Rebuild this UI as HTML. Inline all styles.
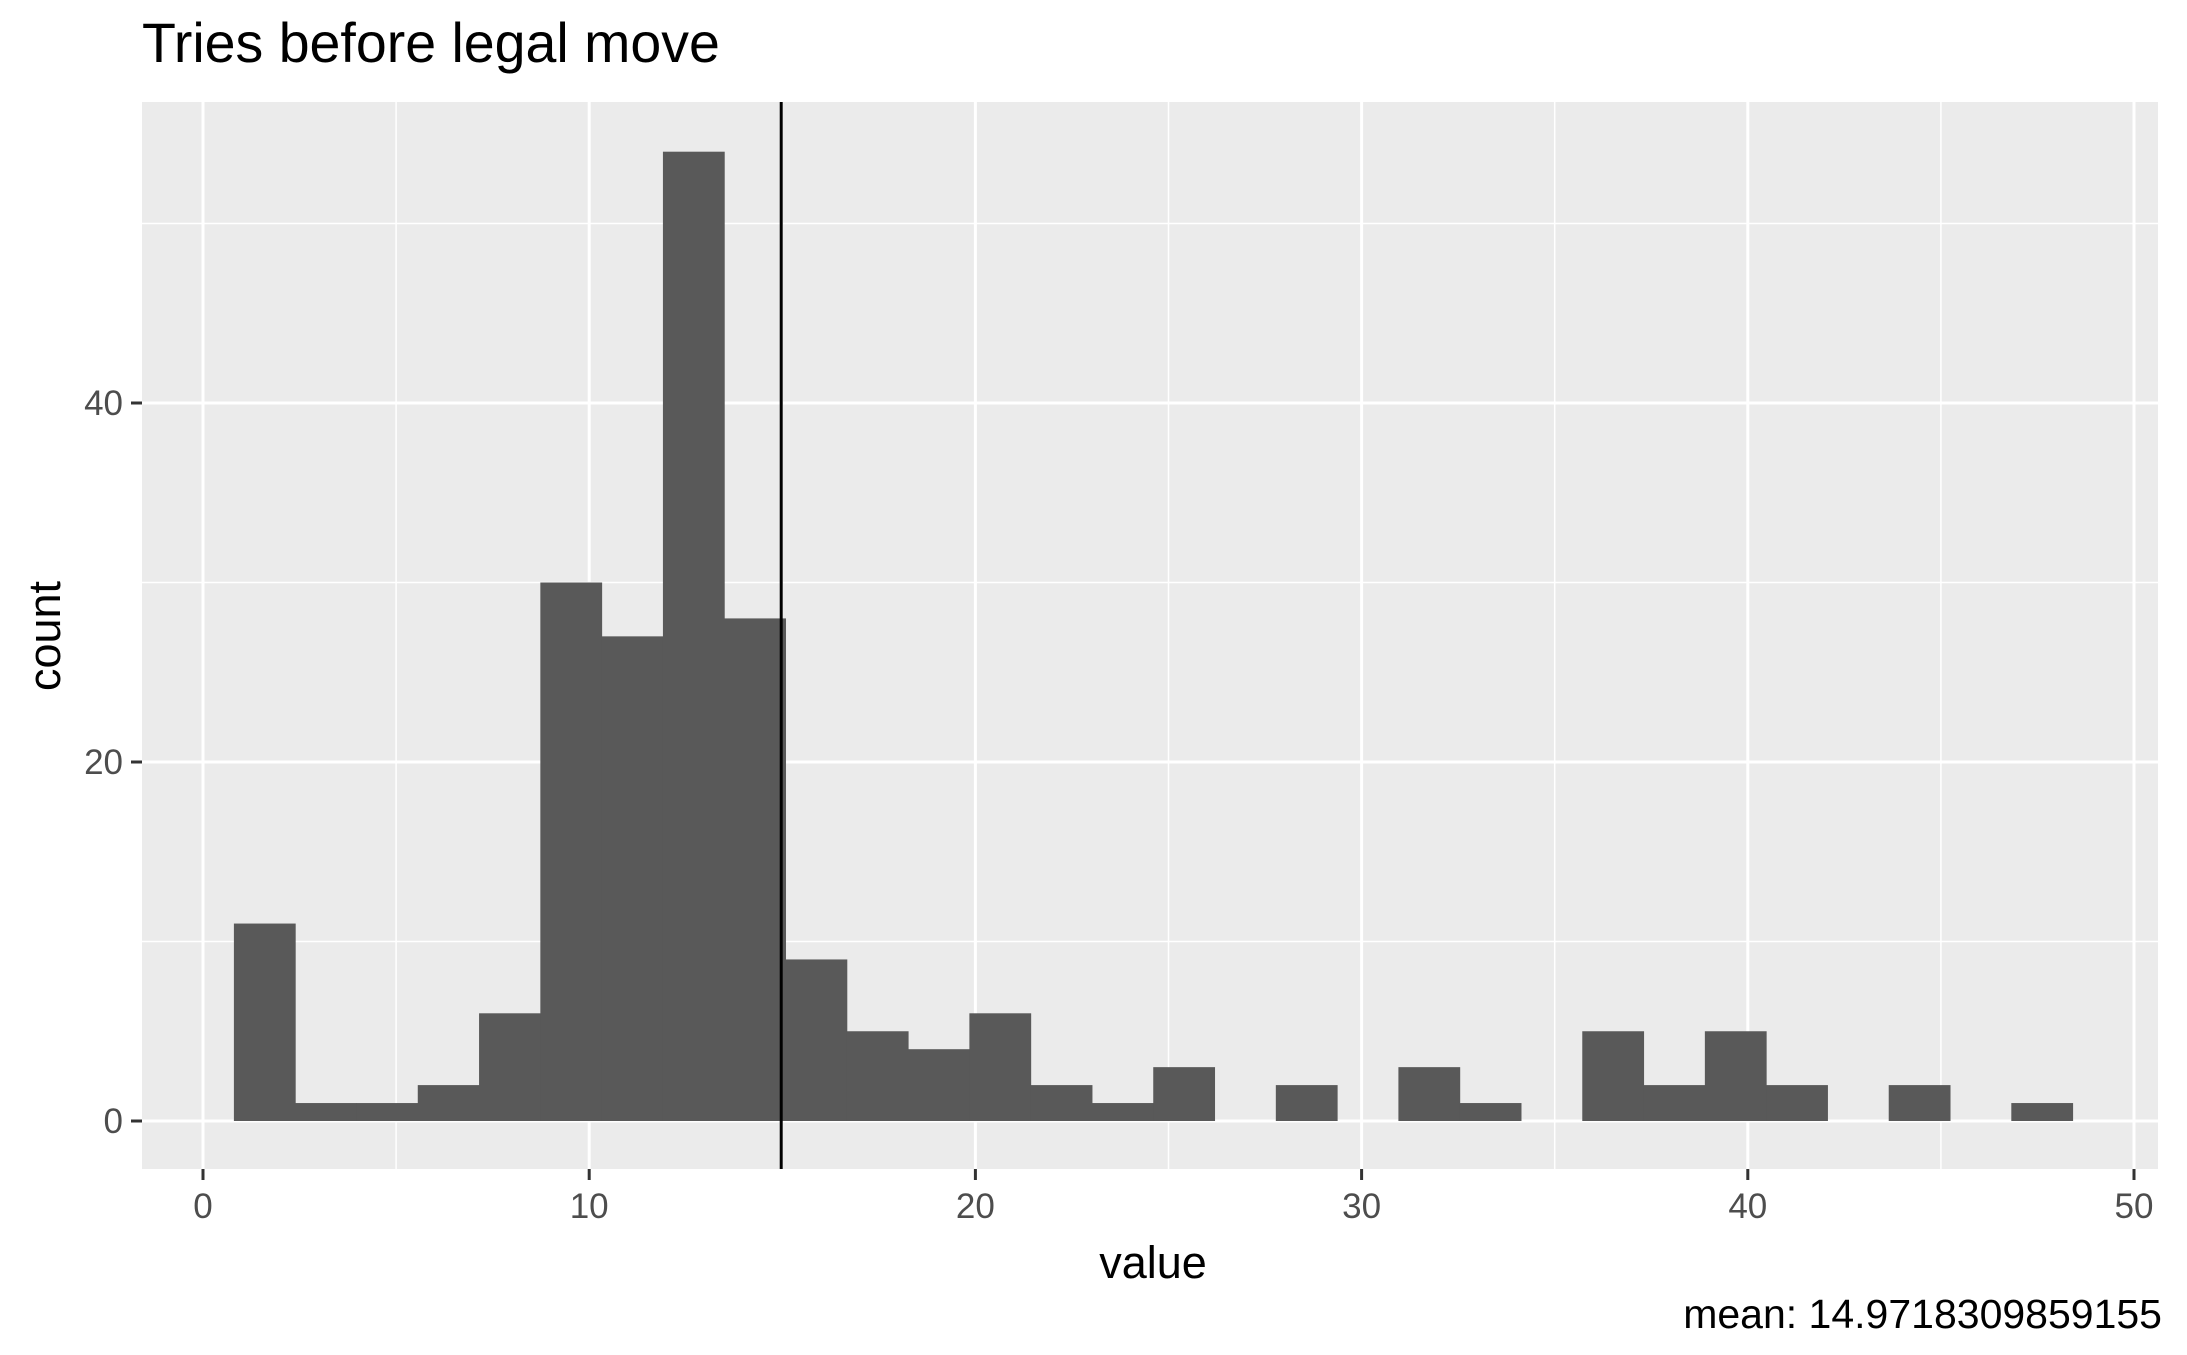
<!DOCTYPE html>
<html><head><meta charset="utf-8"><style>
body{margin:0;background:#fff;font-family:"Liberation Sans",sans-serif}
</style></head><body>
<svg id="chart" width="2187" height="1350" xmlns="http://www.w3.org/2000/svg">
<text x="142" y="62" font-size="55.5" fill="#000">Tries before legal move</text>
<rect x="142" y="102" width="2016" height="1067" fill="#ebebeb"/>
<g id="grid"></g><g id="bars"></g><g id="axes"></g>
<text x="1153" y="1278" font-size="45" text-anchor="middle">value</text>
<text transform="translate(60,636) rotate(-90)" font-size="45" text-anchor="middle">count</text>
<text x="2162" y="1328" font-size="41" text-anchor="end">mean: 14.9718309859155</text>
</svg>
<script>
const counts=[11,1,1,2,6,30,27,54,28,9,5,4,6,2,1,3,0,2,0,3,1,0,5,2,5,2,0,2,0,1];
const binStart=0.8;
const binWidth=1.587;
const meanValue=14.9718309859155;
const xTicks=[0,10,20,30,40,50];
const yTicks=[0,20,40];
const NS="http://www.w3.org/2000/svg";
const X=v=>203+v*38.62;
const Y=v=>1121-v*17.95;
function mk(t,a,p){const e=document.createElementNS(NS,t);for(const k in a)e.setAttribute(k,a[k]);p.appendChild(e);return e;}
const grid=document.getElementById('grid'),bars=document.getElementById('bars'),axes=document.getElementById('axes');
for(let v=5;v<=45;v+=10){const l=mk('line',{x1:X(v),x2:X(v),y1:102,y2:1169,stroke:'#fff','stroke-width':1.5},grid);

}
for(let v=10;v<=50;v+=20){const l=mk('line',{x1:142,x2:2158,y1:Y(v),y2:Y(v),stroke:'#fff','stroke-width':1.5},grid);

}
xTicks.forEach(v=>{const l=mk('line',{x1:X(v),x2:X(v),y1:102,y2:1169,stroke:'#fff','stroke-width':3},grid);


const t=mk('line',{x1:X(v),x2:X(v),y1:1169,y2:1180,stroke:'#333','stroke-width':3},axes);


const s=mk('text',{x:X(v),y:1218,'font-size':35,fill:'#4d4d4d','text-anchor':'middle'},axes);s.textContent=v;

});
yTicks.forEach(v=>{const l=mk('line',{x1:142,x2:2158,y1:Y(v),y2:Y(v),stroke:'#fff','stroke-width':3},grid);


const t=mk('line',{x1:131,x2:142,y1:Y(v),y2:Y(v),stroke:'#333','stroke-width':3},axes);


const s=mk('text',{x:123,y:Y(v)+12,'font-size':35,fill:'#4d4d4d','text-anchor':'end'},axes);s.textContent=v;

});
counts.forEach((c,i)=>{if(!c)return;const x0=X(binStart+i*binWidth),x1=X(binStart+(i+1)*binWidth);
const r=mk('rect',{x:x0,y:Y(c),width:x1-x0+0.5,height:Y(0)-Y(c),fill:'#595959'},bars);

});
const m=mk('line',{x1:X(meanValue),x2:X(meanValue),y1:102,y2:1169,stroke:'#000','stroke-width':3},bars);


</script>
</body></html>
